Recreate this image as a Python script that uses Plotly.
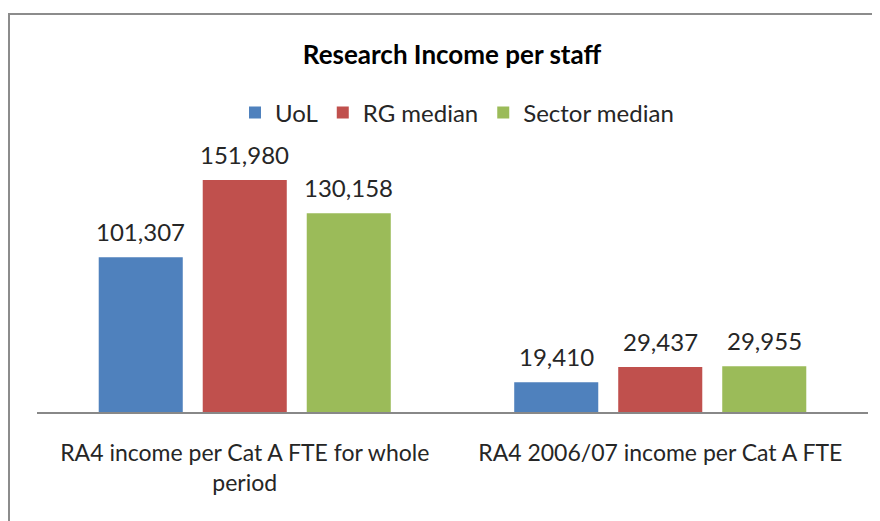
import plotly.graph_objects as go

categories = ["RA4 income per Cat A FTE for whole<br>period", "RA4 2006/07 income per Cat A FTE"]
series_names = ["UoL", "RG median", "Sector median"]
uol = [101307, 19410]
rg_median = [151980, 29437]
sector_median = [130158, 29955]
colors = ["#4F81BD", "#C0504D", "#9BBB59"]

FONT = "Lato"
OFF = 8  # default page body margin
W, H = 880 - OFF, 521 - OFF
SLOT = 104  # pixel spacing between grouped bars

fig = go.Figure()
annotations = []
for i, (name, vals, col) in enumerate(zip(series_names, [uol, rg_median, sector_median], colors)):
    fig.add_trace(go.Bar(
        x=categories, y=vals, name=name,
        marker=dict(color=col, line=dict(width=0)),
    ))
    for c, v in zip(categories, vals):
        annotations.append(dict(
            x=c, y=v, xref="x", yref="y", text=f"{v:,}", showarrow=False,
            xanchor="center", yanchor="bottom", xshift=(i - 1) * SLOT, yshift=9,
            font=dict(family=FONT, size=24, color="#262626"),
        ))

fig.update_layout(
    width=W, height=H,
    margin=dict(l=37 - OFF, r=W - (868 - OFF), t=130 - OFF, b=H - (412 - OFF)),
    paper_bgcolor="white", plot_bgcolor="white",
    barmode="group", bargap=0.249, bargroupgap=0.192,
    title=dict(text="<b>Research Income per staff</b>", x=(452 - OFF) / W, xref="container",
               y=1 - (55 - OFF) / H, yref="container", xanchor="center", yanchor="middle",
               font=dict(family=FONT, size=26, color="black")),
    legend=dict(orientation="h", x=(457 - 37) / 831, xanchor="center", y=(412 - 113) / 282, yanchor="middle",
                font=dict(family=FONT, size=24, color="#262626"),
                itemwidth=30, tracegroupgap=0, bgcolor="rgba(0,0,0,0)"),
    showlegend=True,
    xaxis=dict(showline=True, linecolor="#888888", linewidth=1.5, ticks="",
               ticklabelstandoff=20,
               tickfont=dict(family=FONT, size=23, color="#262626"), fixedrange=True),
    yaxis=dict(range=[0, 184735], visible=False, showgrid=False, zeroline=False),
    annotations=annotations,
    shapes=[dict(type="rect", xref="paper", yref="paper",
                 x0=(9 - 37) / 831, x1=(890 - 37) / 831,
                 y0=(412 - 540) / 282, y1=(412 - 14) / 282,
                 line=dict(color="#8C8C8C", width=2), fillcolor="rgba(0,0,0,0)", layer="below")],
)

fig.write_html("out.html")
